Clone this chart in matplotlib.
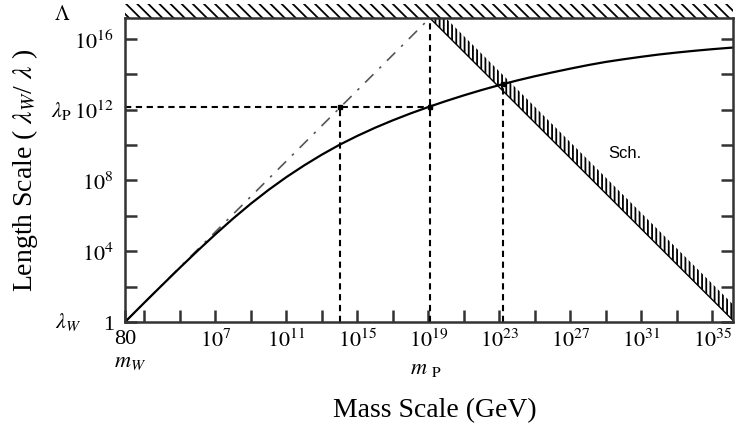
import numpy as np
import matplotlib
matplotlib.use('Agg')
import matplotlib.pyplot as plt
from matplotlib.patches import Rectangle
from matplotlib.ticker import FixedLocator, FixedFormatter, NullLocator

plt.rcParams['font.family'] = ['Liberation Serif', 'DejaVu Serif']
plt.rcParams['mathtext.fontset'] = 'stix'
plt.rcParams['hatch.linewidth'] = 1.3

# ---------------- data ----------------
m_W = 80.0            # GeV
m_P = 1.22e19         # GeV
Lambda = m_P / m_W    # top of length axis
lambda_P = 1.4e12     # length scale at m_P
x_max = 1.5e36

# running curve (one point per decade)
log_mass = [1.903, 3, 4, 5, 6, 7, 8, 9, 10, 11, 12, 13, 14, 15, 16, 17, 18,
            19, 20, 21, 22, 23, 24, 25, 26, 27, 28, 29, 30, 31, 32, 33, 34,
            35, 36, 36.18]
log_length = [0.0, 1.10, 2.09, 3.07, 4.03, 4.96, 5.85, 6.69, 7.47, 8.19,
              8.85, 9.46, 10.02, 10.52, 10.98, 11.40, 11.79, 12.15, 12.49,
              12.81, 13.11, 13.39, 13.65, 13.89, 14.11, 14.32, 14.52, 14.70,
              14.85, 14.99, 15.12, 15.23, 15.33, 15.42, 15.50, 15.51]
mass = np.power(10.0, log_mass)
length = np.power(10.0, log_length)

# naive (slope 1) line
naive_mass = [m_W, m_P]
naive_len = [1.0, Lambda]

# guide lines
x_gut = m_W * lambda_P      # where naive line reaches lambda_P
x_sch = 1.6e23              # where curve meets Schwarzschild band
y_sch = 2.8e13

# Schwarzschild band edge
sch_mass = [m_P, Lambda * m_P]
sch_len = [Lambda, 1.0]
band_factor = 10 ** 0.9

xtick_vals = [80] + [10.0 ** k for k in range(3, 36, 2)]
xtick_labels = ['80'] + ['$10^{%d}$' % k if (k >= 7 and (k - 7) % 4 == 0) else ''
                         for k in range(3, 36, 2)]
ytick_vals = [10.0 ** k for k in range(0, 17, 2)]
ytick_labels = ['1' if k == 0 else ('$10^{%d}$' % k if k % 4 == 0 else '')
                for k in range(0, 17, 2)]

# ---------------- figure ----------------
fig = plt.figure(figsize=(7.36, 4.31), dpi=100)
ax = fig.add_axes([125 / 736, 1 - 323 / 431, 608 / 736, 304 / 431])
ax.set_xscale('log')
ax.set_yscale('log')
ax.set_xlim(m_W, x_max)
ax.set_ylim(1.0, Lambda)

spine_col = '#333333'
for s in ax.spines.values():
    s.set_color(spine_col)
    s.set_linewidth(1.8)

ax.xaxis.set_major_locator(FixedLocator(xtick_vals))
ax.xaxis.set_major_formatter(FixedFormatter(xtick_labels))
ax.yaxis.set_major_locator(FixedLocator(ytick_vals))
ax.yaxis.set_major_formatter(FixedFormatter(ytick_labels))
ax.xaxis.set_minor_locator(NullLocator())
ax.yaxis.set_minor_locator(NullLocator())
ax.tick_params(axis='both', which='major', direction='in', length=8.5,
               width=1.8, color=spine_col, labelsize=16, right=True, top=False)
ax.tick_params(axis='x', pad=5)
ax.tick_params(axis='y', pad=8)

# Schwarzschild band
lo = np.array(sch_len)
ax.fill_between(sch_mass, lo, lo * band_factor, facecolor='none',
                edgecolor='black', hatch='||||', linewidth=0)
ax.plot(sch_mass, sch_len, color='black', lw=1.0)

# guide lines
dkw = dict(color='black', lw=1.5, dashes=(3, 2.2))
ax.plot([m_W, m_P], [lambda_P, lambda_P], **dkw)
ax.plot([x_gut, x_gut], [1.0, lambda_P], **dkw)
ax.plot([m_P, m_P], [1.0, Lambda], **dkw)
ax.plot([x_sch, x_sch], [1.0, y_sch], **dkw)

# naive line
ax.plot(naive_mass, naive_len, color='#555555', lw=1.2,
        dashes=(7, 5, 1.5, 5))

# running curve
ax.plot(mass, length, color='black', lw=1.6, solid_capstyle='round')

# small marks at intersections
ax.plot([x_gut, m_P, x_sch], [lambda_P, lambda_P, y_sch], 's', ms=2.5,
        color='black')

# top hatched band
ax.add_patch(Rectangle((0, 1.0), 1.0, 14 / 304, transform=ax.transAxes,
                       facecolor='none', edgecolor='black', hatch='\\\\\\',
                       linewidth=0, clip_on=False))

# annotations
def px(dx, dy):
    return (dx * 0.72, dy * 0.72)

tr_ax_data = ('axes fraction', 'data')
ax.annotate(r'$\mathit{\Lambda}$', xy=(0, Lambda), xycoords=tr_ax_data,
            xytext=px(-63, 4), textcoords='offset points',
            ha='center', va='center', fontsize=15, annotation_clip=False)
ax.annotate(r'$\lambda_{\mathrm{P}}$', xy=(0, lambda_P), xycoords=tr_ax_data,
            xytext=px(-64, -3), textcoords='offset points',
            ha='center', va='center', fontsize=16, annotation_clip=False)
ax.annotate(r'$\lambda_{W}$', xy=(0, 1.0), xycoords=tr_ax_data,
            xytext=px(-57, 1), textcoords='offset points',
            ha='center', va='center', fontsize=16, annotation_clip=False)
ax.annotate(r'$m_{W}$', xy=(m_W, 0), xycoords=('data', 'axes fraction'),
            xytext=px(5, -40), textcoords='offset points',
            ha='center', va='center', fontsize=16, annotation_clip=False)
ax.annotate(r'$m\ _{\mathrm{P}}$', xy=(m_P, 0), xycoords=('data', 'axes fraction'),
            xytext=px(-4, -47), textcoords='offset points',
            ha='center', va='center', fontsize=16, annotation_clip=False)
ax.text(10 ** 30.1, 10 ** 9.6, 'Sch.', family='Liberation Sans', fontsize=12,
        ha='center', va='center')

fig.text(435 / 736, 1 - 411 / 431, 'Mass Scale (GeV)', ha='center',
         va='center', fontsize=20)
fig.text(25 / 736, 1 - 170 / 431, r'Length Scale ( $\lambda_W$/ $\lambda$ )',
         ha='center', va='center', rotation=90, fontsize=20)

fig.savefig('out.png', dpi=100)
